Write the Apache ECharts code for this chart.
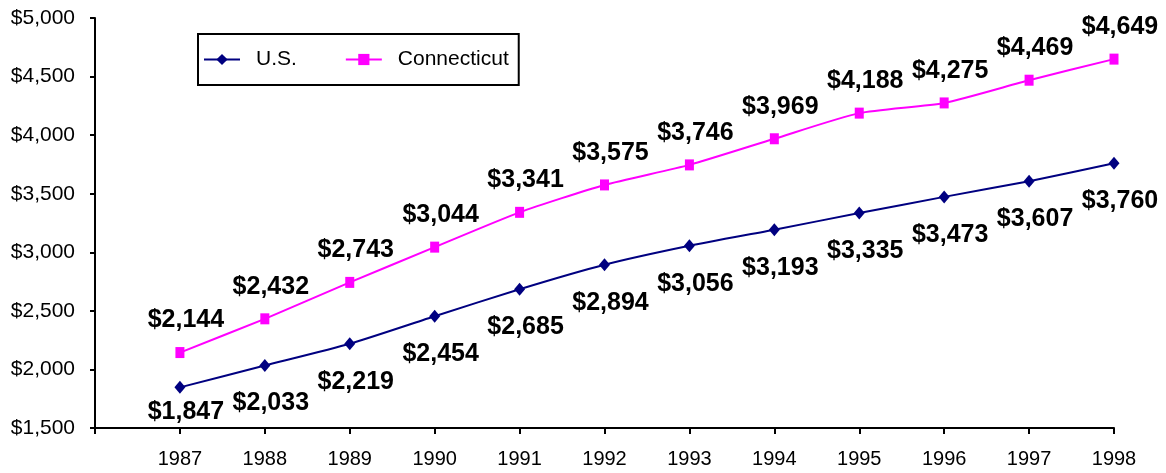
<!DOCTYPE html>
<html>
<head>
<meta charset="utf-8">
<script src="https://cdn.jsdelivr.net/npm/echarts@6/dist/echarts.min.js"></script>
<style>
  html, body { margin: 0; padding: 0; background: #fff; }
  #chart { width: 1166px; height: 473px; }
</style>
</head>
<body>
<div id="chart"></div>
<script>
// data
var years = [1987, 1988, 1989, 1990, 1991, 1992, 1993, 1994, 1995, 1996, 1997, 1998];
var usValues = [1847, 2033, 2219, 2454, 2685, 2894, 3056, 3193, 3335, 3473, 3607, 3760];
var ctValues = [2144, 2432, 2743, 3044, 3341, 3575, 3746, 3969, 4188, 4275, 4469, 4649];
var yTicks = [1500, 2000, 2500, 3000, 3500, 4000, 4500, 5000];

function money(v) {
    return '$' + String(v).replace(/\B(?=(\d{3})+(?!\d))/g, ',');
}
function pairs(vals) {
    return years.map(function (y, i) { return [y, vals[i]]; });
}

var chart = echarts.init(document.getElementById('chart'));
var font = 'Liberation Sans, Arial, sans-serif';

// first U.S. label sits closer to its point (it would hit the axis)
var usData = pairs(usValues).map(function (p, i) {
    return i === 0 ? { value: p, label: { distance: 6 } } : p;
});

chart.setOption({
    animation: false,
    textStyle: { fontFamily: font },
    grid: { left: 95, right: 52, top: 18, bottom: 45 },
    legend: {
        left: 198, top: 34,
        padding: [15, 10, 15, 5],
        borderColor: '#000', borderWidth: 2,
        itemWidth: 36, itemHeight: 14, itemGap: 48,
        textStyle: { fontSize: 21, color: '#000', fontFamily: font, padding: [0, 0, 0, 11] },
        data: ['U.S.', 'Connecticut']
    },
    xAxis: {
        type: 'value',
        min: 1986, max: 1998, interval: 1,
        splitLine: { show: false },
        axisLine: { lineStyle: { color: '#000', width: 2 } },
        axisTick: { length: 6, lineStyle: { color: '#000', width: 2 } },
        axisLabel: {
            margin: 21, fontSize: 20, color: '#000',
            formatter: function (v) { return v === 1986 ? '' : String(v); }
        }
    },
    yAxis: {
        type: 'value',
        min: yTicks[0], max: yTicks[yTicks.length - 1], interval: 500,
        splitLine: { show: false },
        axisLine: { show: true, lineStyle: { color: '#000', width: 2 } },
        axisTick: { show: true, length: 5, lineStyle: { color: '#000', width: 2 } },
        axisLabel: { margin: 20, fontSize: 21, color: '#000', formatter: money }
    },
    series: [
        {
            name: 'U.S.',
            type: 'line',
            smooth: 0.2,
            data: usData,
            color: '#000080',
            lineStyle: { width: 2, color: '#000080' },
            symbol: 'diamond', symbolSize: [11, 13],
            itemStyle: { color: '#000080' },
            label: {
                show: true, position: 'bottom', distance: 19, offset: [6, 0],
                fontSize: 25, fontWeight: 'bold', color: '#000',
                formatter: function (p) { return money(p.value[1]); }
            }
        },
        {
            name: 'Connecticut',
            type: 'line',
            smooth: 0.2,
            data: pairs(ctValues),
            color: '#ff00ff',
            lineStyle: { width: 2, color: '#ff00ff' },
            symbol: 'rect', symbolSize: [9, 11],
            itemStyle: { color: '#ff00ff' },
            label: {
                show: true, position: 'top', distance: 14, offset: [6, 0],
                fontSize: 25, fontWeight: 'bold', color: '#000',
                formatter: function (p) { return money(p.value[1]); }
            }
        }
    ]
});
</script>
</body>
</html>
